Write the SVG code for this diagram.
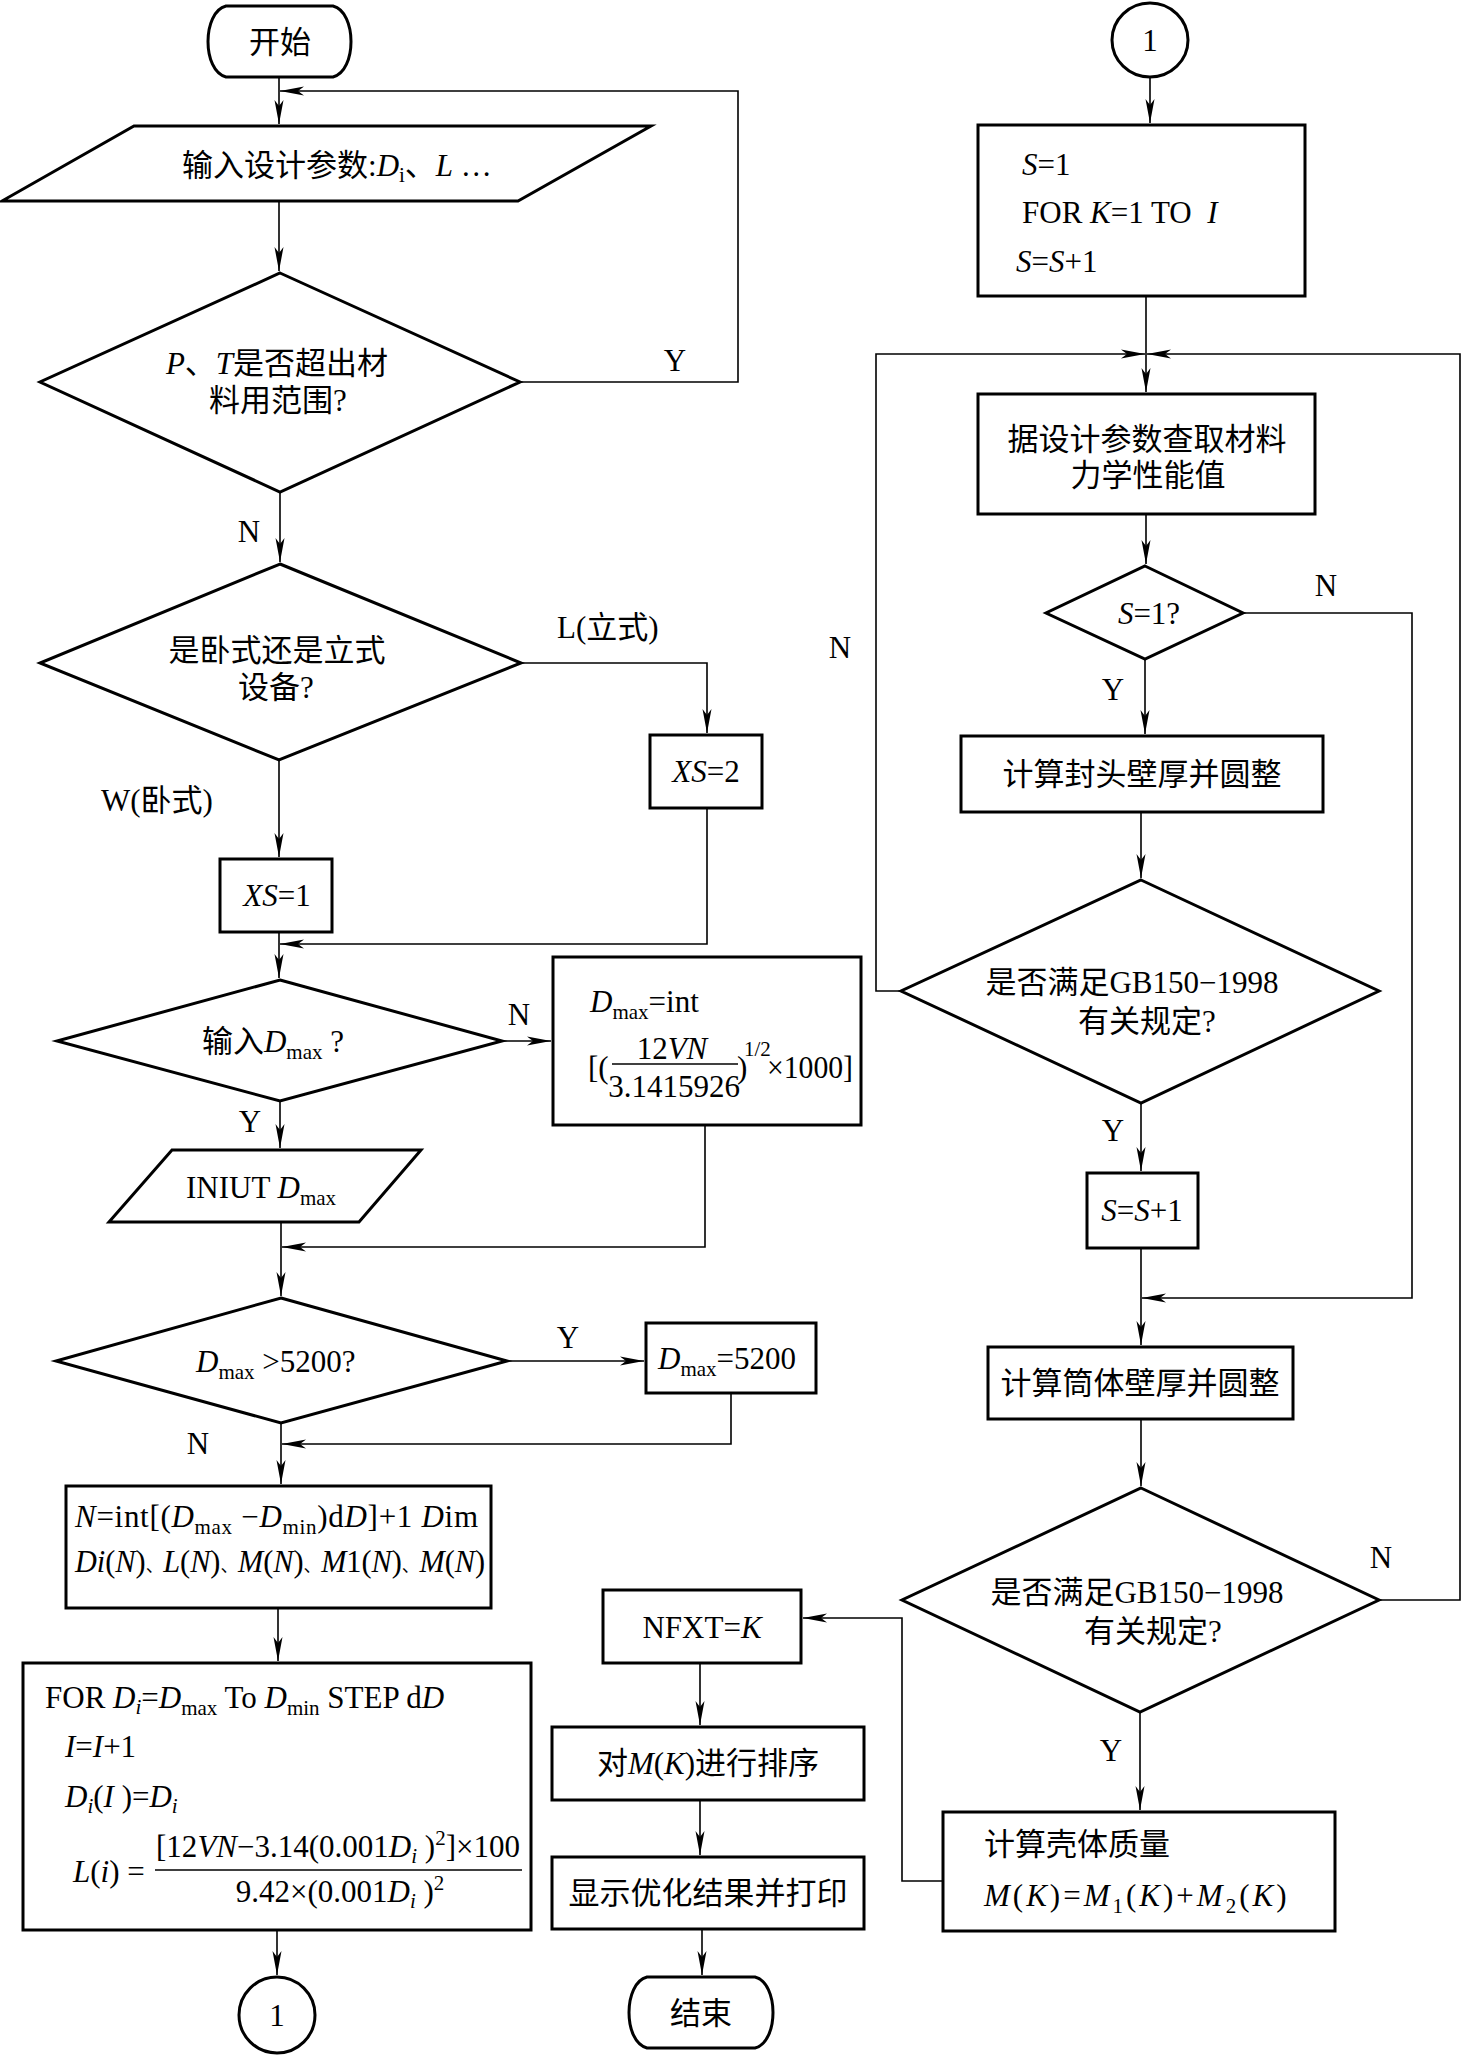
<svg xmlns="http://www.w3.org/2000/svg" width="1463" height="2056" viewBox="0 0 1463 2056">
<style>
.n{fill:#fff;stroke:#000;stroke-width:3;stroke-linejoin:miter}
.e{fill:none;stroke:#000;stroke-width:1.6}
.t{font-family:"Liberation Serif","Noto Sans CJK SC",serif;font-size:31px;fill:#000}
.c{text-anchor:middle}
.i{font-style:italic}
.s{font-size:21px}
.sm{font-size:18px}
</style>
<defs>
<marker id="ah" markerUnits="userSpaceOnUse" markerWidth="26" markerHeight="12" refX="24" refY="6" orient="auto">
<path d="M0,1.5 L24,6 L0,10.5 L6,6 Z" fill="#000"/>
</marker>
</defs>
<rect width="1463" height="2056" fill="#fff"/>

<g id="connectors">
<path class="e" d="M279,77 V124" marker-end="url(#ah)"/>
<path class="e" d="M279,201 V271" marker-end="url(#ah)"/>
<path class="e" d="M520,382 H738 V91 H280" marker-end="url(#ah)"/>
<path class="e" d="M280,492 V562" marker-end="url(#ah)"/>
<path class="e" d="M521,663 H707 V733" marker-end="url(#ah)"/>
<path class="e" d="M279,760 V857" marker-end="url(#ah)"/>
<path class="e" d="M707,808 V944 H280" marker-end="url(#ah)"/>
<path class="e" d="M279,932 V978" marker-end="url(#ah)"/>
<path class="e" d="M502,1041 H551" marker-end="url(#ah)"/>
<path class="e" d="M280,1101 V1148" marker-end="url(#ah)"/>
<path class="e" d="M705,1125 V1247 H282" marker-end="url(#ah)"/>
<path class="e" d="M281,1222 V1296" marker-end="url(#ah)"/>
<path class="e" d="M507,1361 H644" marker-end="url(#ah)"/>
<path class="e" d="M731,1393 V1444 H282" marker-end="url(#ah)"/>
<path class="e" d="M281,1423 V1484" marker-end="url(#ah)"/>
<path class="e" d="M278,1608 V1661" marker-end="url(#ah)"/>
<path class="e" d="M277,1930 V1975" marker-end="url(#ah)"/>
<path class="e" d="M1150,77 V123" marker-end="url(#ah)"/>
<path class="e" d="M1146,296 V392" marker-end="url(#ah)"/>
<path class="e" d="M901,991 H876 V354 H1145" marker-end="url(#ah)"/>
<path class="e" d="M1379,1600 H1460 V354 H1147" marker-end="url(#ah)"/>
<path class="e" d="M1146,514 V564" marker-end="url(#ah)"/>
<path class="e" d="M1145,659 V734" marker-end="url(#ah)"/>
<path class="e" d="M1243,613 H1412 V1298 H1142" marker-end="url(#ah)"/>
<path class="e" d="M1141,812 V878" marker-end="url(#ah)"/>
<path class="e" d="M1141,1103 V1171" marker-end="url(#ah)"/>
<path class="e" d="M1141,1248 V1345" marker-end="url(#ah)"/>
<path class="e" d="M1141,1419 V1486" marker-end="url(#ah)"/>
<path class="e" d="M1140,1712 V1810" marker-end="url(#ah)"/>
<path class="e" d="M943,1881 H902 V1618 H803" marker-end="url(#ah)"/>
<path class="e" d="M700,1663 V1725" marker-end="url(#ah)"/>
<path class="e" d="M700,1800 V1855" marker-end="url(#ah)"/>
<path class="e" d="M702,1929 V1975" marker-end="url(#ah)"/>
</g>

<g id="edge-labels">
<text class="t c" x="675" y="371">Y</text>
<text class="t c" x="249" y="542">N</text>
<text class="t" x="557" y="638">L(立式)</text>
<text class="t" x="101" y="811">W(卧式)</text>
<text class="t c" x="519" y="1025">N</text>
<text class="t c" x="250" y="1132">Y</text>
<text class="t c" x="568" y="1348">Y</text>
<text class="t c" x="198" y="1454">N</text>
<text class="t c" x="1326" y="596">N</text>
<text class="t c" x="1113" y="700">Y</text>
<text class="t c" x="840" y="658">N</text>
<text class="t c" x="1113" y="1141">Y</text>
<text class="t c" x="1381" y="1568">N</text>
<text class="t c" x="1111" y="1761">Y</text>
</g>

<g id="start">
<path class="n" d="M226,6 H333 C357,12 357,71 333,77 H226 C202,71 202,12 226,6 Z"/>
<text class="t c" x="280" y="53">开始</text>
</g>

<g id="input-params">
<polygon class="n" points="134,126 651,126 518,201 2,201"/>
<text class="t" x="182" y="176">输入设计参数:<tspan class="i">D</tspan><tspan class="s" dy="6">i</tspan><tspan dy="-6">、</tspan><tspan class="i">L</tspan> …</text>
</g>

<g id="check-PT">
<polygon class="n" points="280,273 520,382 280,492 40,382"/>
<text class="t c" x="277" y="374"><tspan class="i">P</tspan>、<tspan class="i">T</tspan>是否超出材</text>
<text class="t c" x="278" y="411">料用范围?</text>
</g>

<g id="check-type">
<polygon class="n" points="280,564 521,663 279,760 40,663"/>
<text class="t c" x="277" y="661">是卧式还是立式</text>
<text class="t c" x="276" y="698">设备?</text>
</g>

<g id="xs2">
<rect class="n" x="650" y="735" width="112" height="73"/>
<text class="t c" x="706" y="782"><tspan class="i">XS</tspan>=2</text>
</g>

<g id="xs1">
<rect class="n" x="220" y="859" width="112" height="73"/>
<text class="t c" x="277" y="906"><tspan class="i">XS</tspan>=1</text>
</g>

<g id="input-dmax-q">
<polygon class="n" points="280,980 502,1041 280,1101 57,1041"/>
<text class="t c" x="273" y="1052">输入<tspan class="i">D</tspan><tspan class="s" dy="7">max</tspan><tspan dy="-7"> ?</tspan></text>
</g>

<g id="dmax-calc">
<rect class="n" x="553" y="957" width="308" height="168"/>
<text class="t" x="590" y="1012"><tspan class="i">D</tspan><tspan class="s" dy="7">max</tspan><tspan dy="-7">=int</tspan></text>
<text class="t" x="588" y="1078">[(</text>
<text class="t c" x="672" y="1059">12<tspan class="i">VN</tspan></text>
<line x1="612" y1="1064" x2="738" y2="1064" stroke="#000" stroke-width="1.6"/>
<text class="t c" x="674" y="1097">3.1415926</text>
<text class="t" x="737" y="1078">)</text>
<text class="t s" x="744" y="1056">1/2</text>
<text class="t" x="767" y="1078" textLength="86" lengthAdjust="spacingAndGlyphs">×1000]</text>
</g>

<g id="input-dmax">
<polygon class="n" points="172,1150 421,1150 359,1222 109,1222"/>
<text class="t" x="186" y="1198">INIUT <tspan class="i">D</tspan><tspan class="s" dy="7">max</tspan></text>
</g>

<g id="check-5200">
<polygon class="n" points="281,1298 507,1361 281,1423 56,1361"/>
<text class="t" x="196" y="1372"><tspan class="i">D</tspan><tspan class="s" dy="7">max</tspan><tspan dy="-7"> &gt;5200?</tspan></text>
</g>

<g id="set-5200">
<rect class="n" x="646" y="1323" width="170" height="70"/>
<text class="t" x="658" y="1369"><tspan class="i">D</tspan><tspan class="s" dy="7">max</tspan><tspan dy="-7">=5200</tspan></text>
</g>

<g id="calc-n">
<rect class="n" x="66" y="1486" width="425" height="122"/>
<text class="t" x="75" y="1527" textLength="403" lengthAdjust="spacing"><tspan class="i">N</tspan>=int[(<tspan class="i">D</tspan><tspan class="s" dy="7">max</tspan><tspan dy="-7"> −</tspan><tspan class="i">D</tspan><tspan class="s" dy="7">min</tspan><tspan dy="-7">)d</tspan><tspan class="i">D</tspan>]+1 <tspan class="i">D</tspan>im</text>
<text class="t" x="75" y="1572" textLength="410" lengthAdjust="spacingAndGlyphs"><tspan class="i">Di</tspan>(<tspan class="i">N</tspan>)<tspan class="sm">、</tspan><tspan class="i">L</tspan>(<tspan class="i">N</tspan>)<tspan class="sm">、</tspan><tspan class="i">M</tspan>(<tspan class="i">N</tspan>)<tspan class="sm">、</tspan><tspan class="i">M</tspan>1(<tspan class="i">N</tspan>)<tspan class="sm">、</tspan><tspan class="i">M</tspan>(<tspan class="i">N</tspan>)</text>
</g>

<g id="for-loop">
<rect class="n" x="23" y="1663" width="508" height="267"/>
<text class="t" x="45" y="1708">FOR <tspan class="i">D</tspan><tspan class="s i" dy="6">i</tspan><tspan dy="-6">=</tspan><tspan class="i">D</tspan><tspan class="s" dy="7">max</tspan><tspan dy="-7"> To </tspan><tspan class="i">D</tspan><tspan class="s" dy="7">min</tspan><tspan dy="-7"> STEP d</tspan><tspan class="i">D</tspan></text>
<text class="t" x="65" y="1757"><tspan class="i">I</tspan>=<tspan class="i">I</tspan>+1</text>
<text class="t" x="65" y="1807"><tspan class="i">D</tspan><tspan class="s i" dy="6">i</tspan><tspan dy="-6">(</tspan><tspan class="i">I</tspan> )=<tspan class="i">D</tspan><tspan class="s i" dy="6">i</tspan></text>
<text class="t" x="73" y="1882"><tspan class="i">L</tspan>(<tspan class="i">i</tspan>) =</text>
<text class="t c" x="338" y="1857">[12<tspan class="i">VN</tspan>−3.14(0.001<tspan class="i">D</tspan><tspan class="s i" dy="6">i</tspan><tspan dy="-6"> )</tspan><tspan class="s" dy="-12">2</tspan><tspan dy="12">]×100</tspan></text>
<line x1="155" y1="1870" x2="522" y2="1870" stroke="#000" stroke-width="1.6"/>
<text class="t c" x="340" y="1902">9.42×(0.001<tspan class="i">D</tspan><tspan class="s i" dy="6">i</tspan><tspan dy="-6"> )</tspan><tspan class="s" dy="-12">2</tspan></text>
</g>

<g id="connector-out">
<ellipse class="n" cx="277" cy="2015" rx="38" ry="38"/>
<text class="t c" x="277" y="2026">1</text>
</g>

<g id="connector-in">
<ellipse class="n" cx="1150" cy="40" rx="38" ry="37"/>
<text class="t c" x="1150" y="51">1</text>
</g>

<g id="init-s">
<rect class="n" x="978" y="125" width="327" height="171"/>
<text class="t" x="1022" y="175"><tspan class="i">S</tspan>=1</text>
<text class="t" x="1022" y="223">FOR <tspan class="i">K</tspan>=1 TO&#160; <tspan class="i">I</tspan></text>
<text class="t" x="1016" y="272"><tspan class="i">S</tspan>=<tspan class="i">S</tspan>+1</text>
</g>

<g id="lookup-material">
<rect class="n" x="978" y="394" width="337" height="120"/>
<text class="t c" x="1147" y="450">据设计参数查取材料</text>
<text class="t c" x="1148" y="486">力学性能值</text>
</g>

<g id="check-s1">
<polygon class="n" points="1145,566 1243,613 1145,659 1046,613"/>
<text class="t c" x="1149" y="624"><tspan class="i">S</tspan>=1?</text>
</g>

<g id="calc-head">
<rect class="n" x="961" y="736" width="362" height="76"/>
<text class="t c" x="1142" y="785">计算封头壁厚并圆整</text>
</g>

<g id="check-gb1">
<polygon class="n" points="1141,880 1379,991 1141,1103 901,991"/>
<text class="t c" x="1132" y="993">是否满足GB150−1998</text>
<text class="t c" x="1147" y="1032">有关规定?</text>
</g>

<g id="inc-s">
<rect class="n" x="1087" y="1173" width="111" height="75"/>
<text class="t c" x="1142" y="1221"><tspan class="i">S</tspan>=<tspan class="i">S</tspan>+1</text>
</g>

<g id="calc-shell">
<rect class="n" x="988" y="1347" width="305" height="72"/>
<text class="t c" x="1140" y="1394">计算筒体壁厚并圆整</text>
</g>

<g id="check-gb2">
<polygon class="n" points="1141,1488 1379,1600 1140,1712 902,1600"/>
<text class="t c" x="1137" y="1603">是否满足GB150−1998</text>
<text class="t c" x="1153" y="1642">有关规定?</text>
</g>

<g id="calc-mass">
<rect class="n" x="943" y="1812" width="392" height="119"/>
<text class="t" x="984" y="1855">计算壳体质量</text>
<text class="t" x="984" y="1906" letter-spacing="3"><tspan class="i">M</tspan>(<tspan class="i">K</tspan>)=<tspan class="i">M</tspan><tspan class="s" dy="7">1</tspan><tspan dy="-7">(</tspan><tspan class="i">K</tspan>)+<tspan class="i">M</tspan><tspan class="s" dy="7">2</tspan><tspan dy="-7">(</tspan><tspan class="i">K</tspan>)</text>
</g>

<g id="nfxt">
<rect class="n" x="603" y="1590" width="198" height="73"/>
<text class="t c" x="702" y="1638">NFXT=<tspan class="i">K</tspan></text>
</g>

<g id="sort">
<rect class="n" x="552" y="1727" width="312" height="73"/>
<text class="t c" x="708" y="1774">对<tspan class="i">M</tspan>(<tspan class="i">K</tspan>)进行排序</text>
</g>

<g id="display">
<rect class="n" x="552" y="1857" width="312" height="72"/>
<text class="t c" x="708" y="1904">显示优化结果并打印</text>
</g>

<g id="end">
<path class="n" d="M647,1977 H755 C779,1983 779,2042 755,2048 H647 C623,2042 623,1983 647,1977 Z"/>
<text class="t c" x="701" y="2024">结束</text>
</g>
</svg>
